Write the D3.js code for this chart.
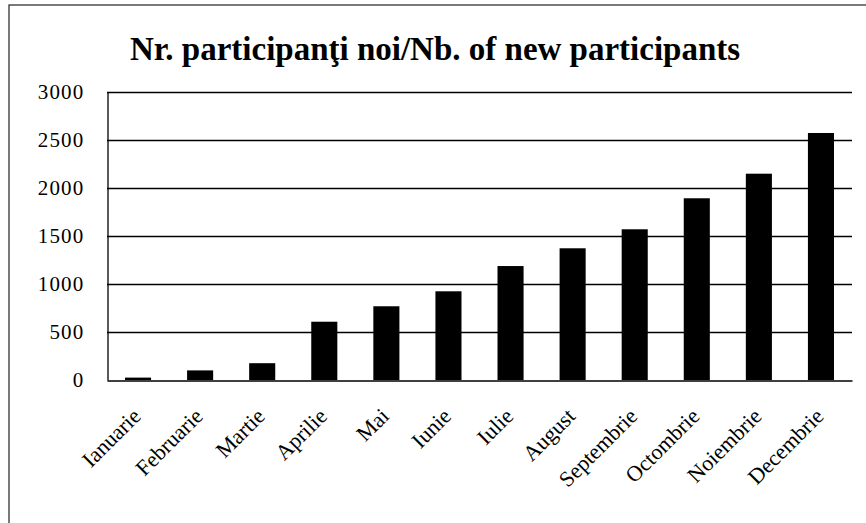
<!DOCTYPE html>
<html>
<head>
<meta charset="utf-8">
<script src="https://cdn.jsdelivr.net/npm/d3@7"></script>
<style>
  html, body { margin: 0; padding: 0; background: #fff; }
  svg { display: block; }
</style>
</head>
<body>
<div id="chart"></div>
<script>
const months = ["Ianuarie","Februarie","Martie","Aprilie","Mai","Iunie","Iulie","August","Septembrie","Octombrie","Noiembrie","Decembrie"];
const participants = [25, 100, 175, 607, 768, 924, 1187, 1372, 1570, 1893, 2149, 2573];
const yTicks = [0, 500, 1000, 1500, 2000, 2500, 3000];
const title = "Nr. participanţi noi/Nb. of new participants";

const W = 866, H = 523;
const plot = { left: 107, right: 852, top: 92, bottom: 380 };
const font = "'Liberation Serif', 'Times New Roman', serif";

const svg = d3.select("#chart").append("svg").attr("width", W).attr("height", H);

// outer frame
svg.append("rect").attr("x", 9).attr("y", 5).attr("width", W + 10).attr("height", H - 1)
  .attr("fill", "none").attr("stroke", "#333").attr("stroke-width", 1.3);

const x = d3.scaleBand().domain(months).range([plot.left, plot.right]).paddingInner(0.58).paddingOuter(0.29);
const y = d3.scaleLinear().domain([0, 3000]).range([plot.bottom, plot.top]);

// gridlines
svg.append("g").selectAll("line").data(yTicks.filter(d => d > 0)).join("line")
  .attr("x1", plot.left).attr("x2", plot.right)
  .attr("y1", d => y(d) + 0.5).attr("y2", d => y(d) + 0.5)
  .attr("stroke", "#000").attr("stroke-width", 1.3);

// y axis
const yAxis = svg.append("g").attr("transform", `translate(${plot.left + 0.5},0)`)
  .call(d3.axisLeft(y).tickValues(yTicks).tickFormat(d3.format("d")).tickSize(0).tickPadding(23));
yAxis.select(".domain").attr("stroke", "#000").attr("stroke-width", 1.3);
yAxis.selectAll("text").attr("font-family", font).attr("font-size", 21)
  .attr("letter-spacing", "1.2px").attr("fill", "#000");

// bars
svg.append("g").selectAll("rect").data(months).join("rect")
  .attr("x", d => x(d)).attr("width", x.bandwidth())
  .attr("y", (d, i) => y(participants[i])).attr("height", (d, i) => y(0) - y(participants[i]))
  .attr("fill", "#000");

// x axis
const xAxis = svg.append("g").attr("transform", `translate(0,${plot.bottom + 0.5})`)
  .call(d3.axisBottom(x).tickSize(0).tickSizeOuter(0));
xAxis.select(".domain").attr("stroke", "#000").attr("stroke-width", 1.3);
xAxis.selectAll("text")
  .attr("font-family", font).attr("font-size", 22).attr("fill", "#000")
  .attr("text-anchor", "end").attr("dy", 0).attr("y", 0)
  .attr("transform", "translate(4,37) rotate(-45)");

// title
svg.append("text").attr("x", 435).attr("y", 60).attr("text-anchor", "middle")
  .attr("font-family", font).attr("font-weight", "bold").attr("font-size", 33)
  .attr("fill", "#000").text(title);
</script>
</body>
</html>
